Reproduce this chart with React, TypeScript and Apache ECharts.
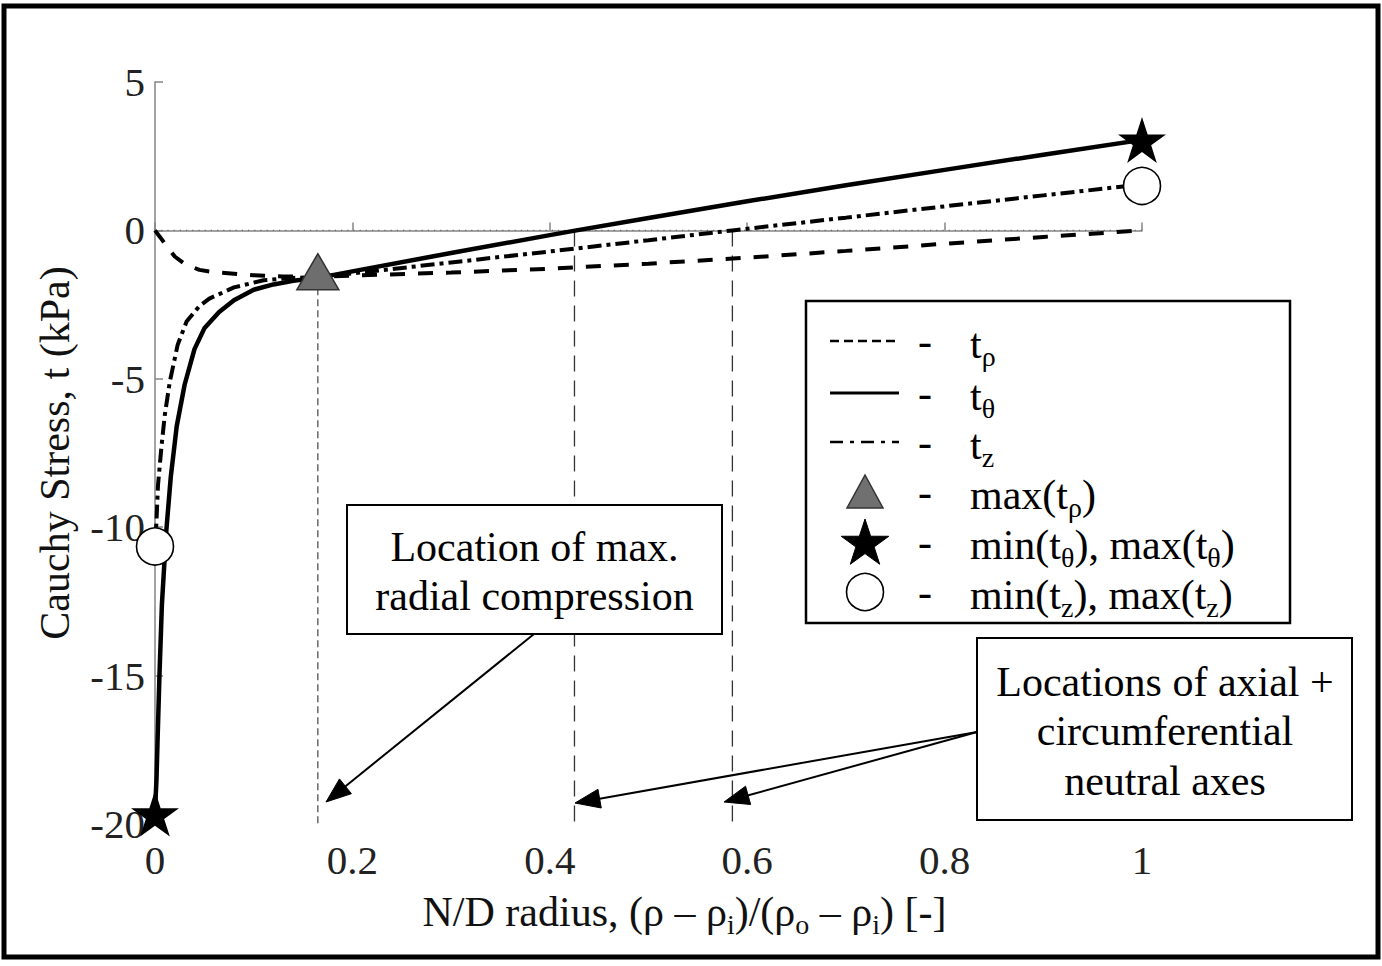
import React, { useEffect, useRef } from 'react';
import * as echarts from 'echarts';

const FONT = "'Liberation Serif', 'Times New Roman', Times, serif";

// Axis ranges / ticks
const X_MIN = 0;
const X_MAX = 1;
const X_STEP = 0.2;
const Y_MIN = -20;
const Y_MAX = 5;
const Y_STEP = 5;

// Radial stress t_rho (dashed)
const xRho = [0, 0.005, 0.01, 0.02, 0.03, 0.045, 0.06, 0.08, 0.1, 0.13, 0.165, 0.2, 0.3, 0.4, 0.5, 0.6, 0.7, 0.8, 0.9, 1.0];
const tRho = [0, -0.22, -0.45, -0.88, -1.13, -1.33, -1.41, -1.46, -1.51, -1.55, -1.56, -1.52, -1.42, -1.29, -1.12, -0.92, -0.69, -0.45, -0.22, 0];

// Circumferential stress t_theta (solid)
const xTheta = [0, 0.0008, 0.0015, 0.0025, 0.0045, 0.007, 0.0115, 0.016, 0.022, 0.03, 0.04, 0.05, 0.065, 0.08, 0.1, 0.12, 0.14, 0.165, 0.2, 0.3, 0.4, 0.427, 0.5, 0.6, 0.7, 0.8, 0.9, 1.0];
const tTheta = [-19.65, -19.0, -18.5, -17.3, -15.0, -12.6, -10.1, -8.3, -6.6, -5.2, -4.0, -3.3, -2.75, -2.35, -2.0, -1.82, -1.7, -1.6, -1.38, -0.76, -0.16, 0, 0.42, 0.98, 1.52, 2.04, 2.55, 3.05];

// Axial stress t_z (dash-dot)
const xZ = [0, 0.0015, 0.003, 0.0065, 0.01, 0.015, 0.023, 0.032, 0.045, 0.055, 0.08, 0.11, 0.14, 0.165, 0.2, 0.3, 0.4, 0.5, 0.585, 0.7, 0.8, 0.9, 1.0];
const tZ = [-10.65, -9.8, -8.6, -7.3, -6.2, -5.1, -3.85, -3.07, -2.55, -2.3, -1.92, -1.68, -1.6, -1.57, -1.45, -1.08, -0.71, -0.33, 0, 0.43, 0.81, 1.18, 1.55];

// Markers
const maxRhoMark = [[0.165, -1.56]];
const thetaExtremes = [[0, -19.65], [1, 3.05]];
const zExtremes = [[0, -10.65], [1, 1.5]];

// Reference lines
const zeroLine = [[0, 0], [1, 0]];
const maxCompressionLine = [[0.165, -1.95], [0.165, -20]];
const neutralThetaLine = [[0.425, 0], [0.425, -20]];
const neutralZLine = [[0.585, 0], [0.585, -20]];

// Legend / annotation text
const legendLabels = [
  't{s|ρ}',
  't{s|θ}',
  't{s|z}',
  'max(t{s|ρ})',
  'min(t{s|θ}), max(t{s|θ})',
  'min(t{s|z}), max(t{s|z})',
];
const yTitle = 'Cauchy Stress, t (kPa)';
const xTitle = 'N/D radius, (ρ – ρ{s|i})/(ρ{s|o} – ρ{s|i}) [-]';
const note1 = 'Location of max.\nradial compression';
const note2 = 'Locations of axial +\ncircumferential\nneutral axes';

const zip = (xs: number[], ys: number[]) => xs.map((x, i) => [x, ys[i]]);

function starPts(cx: number, cy: number, R: number, r: number) {
  const pts: number[][] = [];
  for (let k = 0; k < 10; k++) {
    const a = -Math.PI / 2 + (k * Math.PI) / 5;
    const rad = k % 2 === 0 ? R : r;
    pts.push([cx + rad * Math.cos(a), cy + rad * Math.sin(a)]);
  }
  return pts;
}

const starSymbol =
  'path://M' + starPts(0, 0, 50, 19.1).map((p) => p[0].toFixed(2) + ',' + p[1].toFixed(2)).join(' L') + ' Z';

function arrow(x1: number, y1: number, x2: number, y2: number) {
  const dx = x2 - x1;
  const dy = y2 - y1;
  const len = Math.sqrt(dx * dx + dy * dy);
  const ux = dx / len;
  const uy = dy / len;
  const L = 25;
  const W = 9.5;
  const bx = x2 - ux * L;
  const by = y2 - uy * L;
  return [
    {
      type: 'line',
      z: 100,
      shape: { x1, y1, x2: x2 - ux * 12, y2: y2 - uy * 12 },
      style: { stroke: '#000', lineWidth: 2 },
    },
    {
      type: 'polygon',
      z: 100,
      shape: { points: [[x2, y2], [bx - uy * W, by + ux * W], [bx + uy * W, by - ux * W]] },
      style: { fill: '#000', stroke: '#000', lineWidth: 1 },
    },
  ];
}

const subRich = {
  s: { fontFamily: FONT, fontSize: 28, lineHeight: 28, verticalAlign: 'bottom', fill: '#000', color: '#000' },
};

export default function App() {
  const ref = useRef<HTMLDivElement>(null);

  useEffect(() => {
    if (!ref.current) return;
    const chart = echarts.init(ref.current, undefined, { renderer: 'svg' });

    const rowY = [341, 393, 442, 492, 542, 592];
    const legendEls: any[] = [
      {
        type: 'rect',
        z: 100,
        shape: { x: 806, y: 301, width: 484, height: 322 },
        style: { fill: '#fff', stroke: '#000', lineWidth: 2.5 },
      },
      {
        type: 'line',
        z: 101,
        shape: { x1: 830, y1: rowY[0], x2: 899, y2: rowY[0] },
        style: { stroke: '#000', lineWidth: 2.5, lineDash: [9, 5] },
      },
      {
        type: 'line',
        z: 101,
        shape: { x1: 830, y1: rowY[1], x2: 899, y2: rowY[1] },
        style: { stroke: '#000', lineWidth: 3 },
      },
      {
        type: 'line',
        z: 101,
        shape: { x1: 830, y1: rowY[2], x2: 899, y2: rowY[2] },
        style: { stroke: '#000', lineWidth: 2.5, lineDash: [13, 7, 4, 7] },
      },
      {
        type: 'polygon',
        z: 101,
        shape: { points: [[865, rowY[3] - 17], [847, rowY[3] + 16], [883, rowY[3] + 16]] },
        style: { fill: '#707070', stroke: '#333', lineWidth: 1.5 },
      },
      {
        type: 'polygon',
        z: 101,
        shape: { points: starPts(865, rowY[4] + 2, 25, 9.6) },
        style: { fill: '#000', stroke: '#000', lineWidth: 1 },
      },
      {
        type: 'circle',
        z: 101,
        shape: { cx: 865, cy: rowY[5], r: 18.5 },
        style: { fill: '#fff', stroke: '#000', lineWidth: 1.6 },
      },
    ];
    rowY.forEach((y, i) => {
      legendEls.push({
        type: 'text',
        z: 101,
        style: {
          text: '-',
          x: 925,
          y,
          textAlign: 'center',
          textVerticalAlign: 'middle',
          fontFamily: FONT,
          fontSize: 42,
          fill: '#000',
        },
      });
      legendEls.push({
        type: 'text',
        z: 101,
        style: {
          text: legendLabels[i],
          x: 970,
          y: y + 3,
          textAlign: 'left',
          textVerticalAlign: 'middle',
          fontFamily: FONT,
          fontSize: 42,
          lineHeight: 52,
          fill: '#000',
          rich: subRich,
        },
      });
    });

    const noteEls: any[] = [
      {
        type: 'rect',
        z: 100,
        shape: { x: 347, y: 505, width: 375, height: 129 },
        style: { fill: '#fff', stroke: '#000', lineWidth: 2 },
      },
      {
        type: 'text',
        z: 101,
        style: {
          text: note1,
          x: 534.5,
          y: 571,
          textAlign: 'center',
          textVerticalAlign: 'middle',
          fontFamily: FONT,
          fontSize: 42,
          lineHeight: 49,
          fill: '#000',
        },
      },
      {
        type: 'rect',
        z: 100,
        shape: { x: 977, y: 638, width: 375, height: 182 },
        style: { fill: '#fff', stroke: '#000', lineWidth: 2 },
      },
      {
        type: 'text',
        z: 101,
        style: {
          text: note2,
          x: 1165,
          y: 731,
          textAlign: 'center',
          textVerticalAlign: 'middle',
          fontFamily: FONT,
          fontSize: 42,
          lineHeight: 49.5,
          fill: '#000',
        },
      },
      ...arrow(534, 634, 326, 802),
      ...arrow(977, 732, 575, 803),
      ...arrow(977, 732, 724, 802),
      {
        type: 'rect',
        z: 200,
        shape: { x: 4, y: 6, width: 1374, height: 951 },
        style: { fill: 'none', stroke: '#000', lineWidth: 5 },
      },
    ];

    const refLine = (data: number[][], color: string, width: number, dash: number[]) => ({
      type: 'line',
      data,
      symbol: 'none',
      silent: true,
      clip: false,
      z: 1,
      lineStyle: { color, width, type: dash },
    });

    const option: any = {
      animation: false,
      backgroundColor: '#ffffff',
      grid: { left: 155, right: 240, top: 82, bottom: 142, containLabel: false, outerBoundsMode: 'none' },
      xAxis: {
        type: 'value',
        min: X_MIN,
        max: X_MAX,
        interval: X_STEP,
        name: xTitle,
        nameLocation: 'middle',
        nameGap: 62,
        nameTextStyle: {
          fontFamily: FONT,
          fontSize: 42,
          color: '#111',
          lineHeight: 52,
          padding: [0, 0, 0, 72],
          rich: { s: { fontFamily: FONT, fontSize: 28, lineHeight: 28, verticalAlign: 'bottom', color: '#111' } },
        },
        axisLine: { lineStyle: { color: '#858585', width: 1.5 } },
        axisTick: { inside: true, length: 8, lineStyle: { color: '#858585', width: 1.5 } },
        axisLabel: { fontFamily: FONT, fontSize: 41, color: '#222', margin: 15 },
        splitLine: { show: false },
      },
      yAxis: {
        type: 'value',
        min: Y_MIN,
        max: Y_MAX,
        interval: Y_STEP,
        name: yTitle,
        nameLocation: 'middle',
        nameGap: 79,
        nameTextStyle: { fontFamily: FONT, fontSize: 42, color: '#111' },
        axisLine: { lineStyle: { color: '#858585', width: 1.5 } },
        axisTick: { inside: true, length: 8, lineStyle: { color: '#858585', width: 1.5 } },
        axisLabel: { fontFamily: FONT, fontSize: 41, color: '#222', margin: 10 },
        splitLine: { show: false },
      },
      series: [
        refLine(zeroLine, '#666', 1.2, [1.2, 5]),
        refLine(maxCompressionLine, '#333', 1.1, [7, 4]),
        refLine(neutralThetaLine, '#333', 1.3, [16, 9]),
        refLine(neutralZLine, '#333', 1.3, [16, 9]),
        {
          name: 't_rho',
          type: 'line',
          data: zip(xRho, tRho),
          symbol: 'none',
          clip: false,
          z: 3,
          lineStyle: { color: '#000', width: 4, type: [15, 13] },
        },
        {
          name: 't_z',
          type: 'line',
          data: zip(xZ, tZ),
          symbol: 'none',
          clip: false,
          z: 3,
          lineStyle: { color: '#000', width: 4, type: [14, 5, 4, 5] },
        },
        {
          name: 't_theta',
          type: 'line',
          data: zip(xTheta, tTheta),
          symbol: 'none',
          clip: false,
          z: 4,
          lineStyle: { color: '#000', width: 4.5 },
        },
        {
          name: 'max(t_rho)',
          type: 'scatter',
          data: maxRhoMark,
          symbol: 'triangle',
          symbolSize: [42, 36],
          symbolOffset: [0, -5],
          clip: false,
          z: 6,
          itemStyle: { color: '#6e6e6e', borderColor: '#333', borderWidth: 1.5, opacity: 1 },
        },
        {
          name: 'min/max(t_theta)',
          type: 'scatter',
          data: thetaExtremes,
          symbol: starSymbol,
          symbolSize: [48, 46],
          clip: false,
          z: 6,
          itemStyle: { color: '#000', opacity: 1 },
        },
        {
          name: 'min/max(t_z)',
          type: 'scatter',
          data: zExtremes,
          symbol: 'circle',
          symbolSize: 37,
          clip: false,
          z: 6,
          itemStyle: { color: '#fff', borderColor: '#000', borderWidth: 1.6, opacity: 1 },
        },
      ],
      graphic: { elements: [...legendEls, ...noteEls] },
    };

    chart.setOption(option);
    return () => {
      chart.dispose();
    };
  }, []);

  return (
    <div
      ref={ref}
      style={{ position: 'absolute', left: 0, top: 0, width: 1382, height: 966, background: '#fff' }}
    />
  );
}
